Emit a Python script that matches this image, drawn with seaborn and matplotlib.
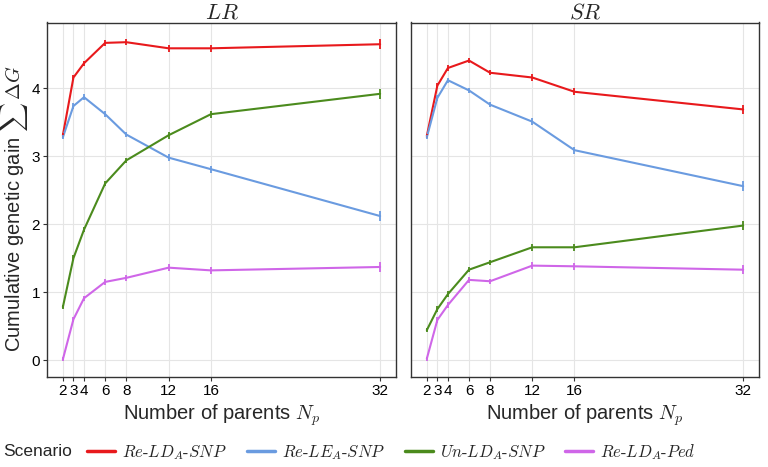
import numpy as np
import pandas as pd
import matplotlib
matplotlib.use("Agg")
import matplotlib.pyplot as plt
import seaborn as sns
from matplotlib.lines import Line2D

# ---- data ----
parents = [2, 3, 4, 6, 8, 12, 16, 32]
panels = ["LR", "SR"]
scenarios = ["Re-LD_A-SNP", "Re-LE_A-SNP", "Un-LD_A-SNP", "Re-LD_A-Ped"]
scenario_labels = [r"$Re\text{-}LD_A\text{-}SNP$", r"$Re\text{-}LE_A\text{-}SNP$",
                   r"$Un\text{-}LD_A\text{-}SNP$", r"$Re\text{-}LD_A\text{-}Ped$"]

lr_re_ld_snp = [3.31, 4.16, 4.37, 4.67, 4.68, 4.59, 4.59, 4.65]
lr_re_le_snp = [3.28, 3.74, 3.87, 3.62, 3.32, 2.98, 2.81, 2.12]
lr_un_ld_snp = [0.78, 1.50, 1.92, 2.60, 2.94, 3.31, 3.62, 3.92]
lr_re_ld_ped = [0.01, 0.60, 0.91, 1.15, 1.21, 1.36, 1.32, 1.37]

sr_re_ld_snp = [3.30, 4.04, 4.30, 4.41, 4.23, 4.16, 3.95, 3.69]
sr_re_le_snp = [3.28, 3.86, 4.12, 3.97, 3.76, 3.51, 3.09, 2.56]
sr_un_ld_snp = [0.44, 0.75, 0.97, 1.33, 1.44, 1.66, 1.66, 1.98]
sr_re_ld_ped = [0.02, 0.59, 0.81, 1.18, 1.16, 1.39, 1.38, 1.33]

# half-width of error bars
err = [0.03, 0.04, 0.04, 0.04, 0.04, 0.05, 0.05, 0.07]

colors = ["#e8191c", "#6a9be0", "#4b8b1d", "#cf66e8"]

values = {
    "LR": [lr_re_ld_snp, lr_re_le_snp, lr_un_ld_snp, lr_re_ld_ped],
    "SR": [sr_re_ld_snp, sr_re_le_snp, sr_un_ld_snp, sr_re_ld_ped],
}

rows = []
for p in panels:
    for s, vals in zip(scenarios, values[p]):
        for x, y, e in zip(parents, vals, err):
            rows.append(dict(panel=p, scenario=s, Np=x, gain=y, err=e))
df = pd.DataFrame(rows)

# ---- style ----
sns.set_theme(style="whitegrid")
plt.rcParams["font.family"] = ["Liberation Sans", "DejaVu Sans"]
plt.rcParams["mathtext.fontset"] = "cm"

fig = plt.figure(figsize=(7.68, 4.67), dpi=100)
W, H = 768, 467
def ax_rect(l, r, t, b):
    return [l / W, 1 - b / H, (r - l) / W, (b - t) / H]

axes = [fig.add_axes(ax_rect(47, 396, 22.5, 377)),
        fig.add_axes(ax_rect(411, 759, 22.5, 377))]

pal = dict(zip(scenarios, colors))
for i, (ax, p) in enumerate(zip(axes, panels)):
    sub = df[df.panel == p]
    sns.lineplot(data=sub, x="Np", y="gain", hue="scenario", hue_order=scenarios,
                 palette=pal, ax=ax, legend=False, linewidth=1.5, errorbar=None)
    for s in scenarios:
        ss = sub[sub.scenario == s]
        ax.errorbar(ss.Np, ss.gain, yerr=ss.err, fmt="none", ecolor=pal[s],
                    elinewidth=1.3, capsize=0)
    ax.set_xlim(0.5, 33.5)
    ax.set_ylim(-0.25, 4.97)
    ax.set_xticks(parents)
    ax.set_xticklabels([str(v) for v in parents])
    ax.set_yticks([0, 1, 2, 3, 4])
    ax.grid(True, color="#e5e5e5", linewidth=0.8)
    ax.set_facecolor("white")
    for sp in ax.spines.values():
        sp.set_visible(True)
        sp.set_color("#333333")
        sp.set_linewidth(1.0)
    ax.tick_params(axis="both", which="major", length=3, width=0.8, color="#333333",
                   direction="out", bottom=True, left=True, pad=2, labelsize=11,
                   labelcolor="black")
    ax.set_xlabel(r"Number of parents $N_p$", fontsize=14.5, labelpad=3)
    ax.set_title(r"$%s$" % p, fontsize=16, pad=3)
    if i == 0:
        ax.set_ylabel(r"Cumulative genetic gain $\sum\,\Delta G$", fontsize=14.5)
        ax.yaxis.set_label_coords(-0.049, 0.475)
    else:
        ax.set_ylabel("")
        ax.set_yticklabels([])
        ax.tick_params(axis="y", length=0)

# legend
handles = [Line2D([0], [0], color=c, lw=2.5) for c in colors]
fig.text(3 / W, 1 - 452 / H, "Scenario", fontsize=12.5, va="center", ha="left")
fig.legend(handles, scenario_labels, loc="center left",
           bbox_to_anchor=(87 / W, 1 - 452 / H), ncol=4, frameon=False,
           fontsize=12, handlelength=1.7, handletextpad=0.4, columnspacing=1.2,
           borderaxespad=0, borderpad=0)

fig.savefig("out.png", dpi=100)
